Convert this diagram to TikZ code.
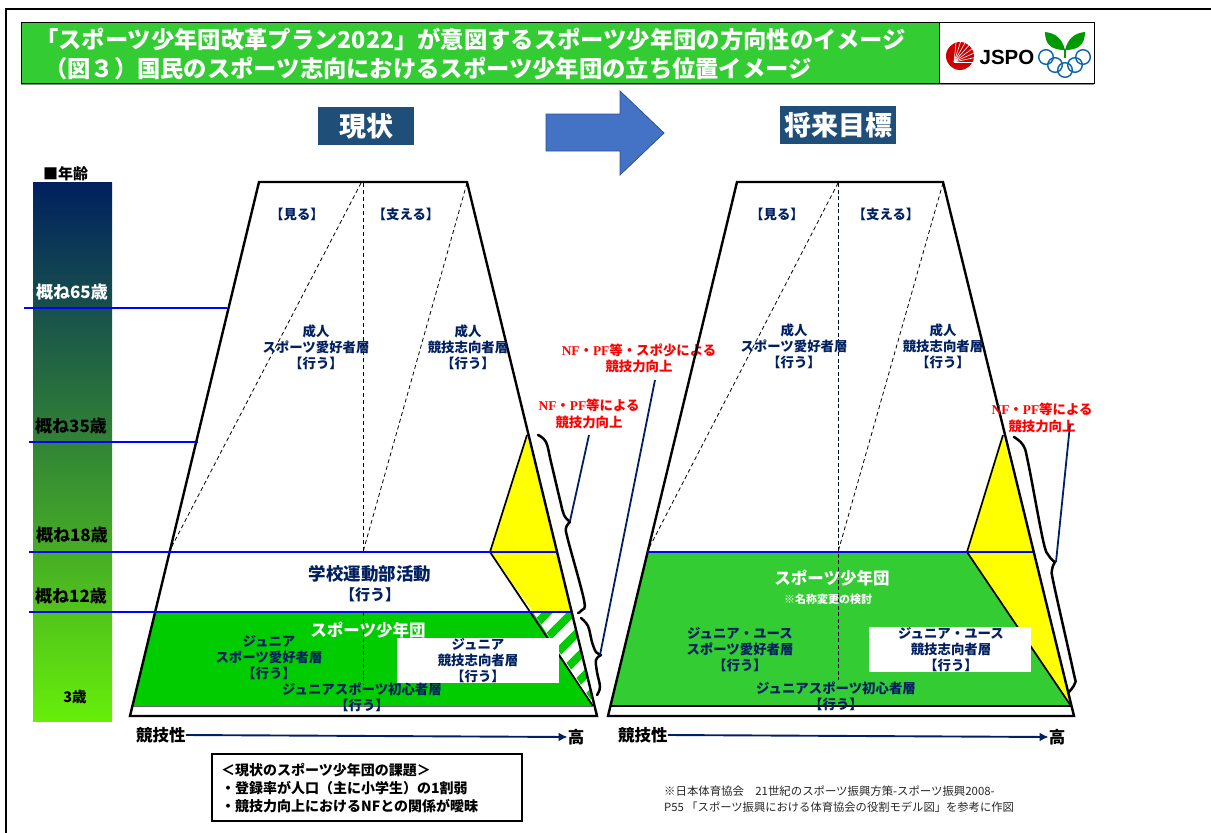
\documentclass[tikz,border=0pt]{standalone}
\usepackage{fontspec}
\setmainfont{Noto Sans CJK JP}
\newfontfamily\lsb{Liberation Serif}
\newfontfamily\lsn{Liberation Sans}
\newcommand\fs[2]{\fontsize{#1}{#2}\selectfont\bfseries}
\newcommand\nfpf{{\lsb\bfseries NF}・{\lsb\bfseries PF}}
\definecolor{navy}{HTML}{002060}
\definecolor{hdr}{HTML}{1F4E79}
\definecolor{tgreen}{HTML}{33CC33}
\definecolor{lgreen}{HTML}{00CC00}
\definecolor{lineblue}{HTML}{0000FF}
\definecolor{arrowblue}{HTML}{4472C4}
\definecolor{arrowedge}{HTML}{2F528F}
\definecolor{ringblue}{HTML}{0B62AF}
\definecolor{yel}{RGB}{255,255,0}
\definecolor{pured}{RGB}{255,0,0}
\usetikzlibrary{arrows.meta}
\tikzset{
  x=1pt,y=-1pt,
  outl/.style={draw=black,line width=2.4pt,line join=miter},
  edge/.style={draw=black,line width=1.7pt},
  blueline/.style={draw=lineblue,line width=2.8pt},
  dash1/.style={draw=black,line width=0.8pt,dash pattern=on 4pt off 3pt},
  dash2/.style={draw=black!70!navy,line width=1pt,dash pattern=on 4pt off 2.5pt},
  lbl/.style={text=navy,align=center,inner sep=0pt,font=\fs{13.4}{16}},
  big/.style={text=navy,align=center,inner sep=0pt,font=\fs{17.5}{20}},
  whitelbl/.style={text=white,inner sep=0pt,font=\fs{16.5}{18}},
  redlbl/.style={text=pured,align=center,inner sep=0pt,font=\fs{13.4}{16.5}},
  age/.style={inner sep=0pt,font=\fs{17}{17}},
  axlbl/.style={text=black,inner sep=0pt,font=\fs{16.5}{16.5}},
  axarrow/.style={draw=navy,line width=1.9pt,-{Latex[length=9pt,width=9pt]}},
  leader/.style={draw=navy,line width=1.8pt},
  brace/.style={draw=black,line width=2.5pt,line cap=round},
  hdrbox/.style={fill=hdr,text=white,inner sep=0pt,font=\fs{27}{27}},
  whitebox/.style={fill=white,draw=none,inner sep=0pt},
  ring/.style={draw=ringblue,line width=1.4pt},
}
\begin{document}
\begin{tikzpicture}
\useasboundingbox (0,0) rectangle (1211,833);
% outer frame
\draw[black,line width=2.4pt] (6,833) -- (6,9) -- (1211,9);
% title band
\fill[black!45] (21,84) rectangle (1094,85);
\node[fill=tgreen,draw=black,line width=0.8pt,minimum width=918pt,minimum height=61pt,inner sep=0pt,anchor=north west] (band) at (21,22) {};
\node[fill=white,draw=black,line width=0.8pt,minimum width=155pt,minimum height=61pt,inner sep=0pt,anchor=north west] (logo) at (939,22) {};
\node[text=white,inner sep=0pt,anchor=west,font=\fs{23.3}{24}] (t1) at (35,39) {「スポーツ少年団改革プラン2022」が意図するスポーツ少年団の方向性のイメージ};
\node[text=white,inner sep=0pt,anchor=west,font=\fs{23.3}{24}] (t2) at (44,69) {（図３）国民のスポーツ志向におけるスポーツ少年団の立ち位置イメージ};
% logo
\begin{scope}
\clip (960,56) circle (14);
\fill[red!80!black] (960,56) circle (14);
\foreach \a in {0,12,...,84} \draw[white,line width=0.6pt] (954,62) -- ++(-\a:30);
\end{scope}
\node[inner sep=0pt,text=black,font=\lsn\bfseries\fontsize{20.5}{20}\selectfont] (jspo) at (1007,57) {JSPO};
\fill[green!60!black] (1065,50) .. controls (1062,38) and (1055,33) .. (1045,32) .. controls (1045,45) and (1052,50) .. (1065,50) -- cycle;
\fill[green!60!black] (1065,50) .. controls (1068,38) and (1075,33) .. (1085,32) .. controls (1085,45) and (1078,50) .. (1065,50) -- cycle;
\draw[green!60!black,line width=1.4pt] (1065,50) -- (1065,58);
\foreach \p in {(1046,57),(1055,65),(1065,70),(1075,65),(1083,57)} \draw[ring] \p circle (7.3);
% headers
\node[hdrbox,minimum width=96pt,minimum height=38pt] (now) at (366,126) {現状};
\node[hdrbox,minimum width=116pt,minimum height=38pt] (future) at (838,125) {将来目標};
\draw[fill=arrowblue,draw=arrowedge,line width=0.8pt] (546,114) -- (620,114) -- (620,91) -- (664,133) -- (620,175) -- (620,151) -- (546,151) -- cycle;
% age bar
\shade[top color=navy,middle color={rgb,255:red,72;green,160;blue,75},bottom color={rgb,255:red,102;green,238;blue,10}] (33,182) rectangle (112,721);
\node[age,font=\fs{15}{15},anchor=west] (agehd) at (43,174) {■年齢};

% ---- LEFT trapezoid
\path[fill=white] (259,182) -- (467,182) -- (597,716) -- (130,716) -- cycle;
\fill[lgreen] (155,612) -- (533,612) -- (593,706) -- (133,706) -- cycle;
\begin{scope}
\clip (533,612) -- (572,612) -- (595,706) -- cycle;
\fill[white] (533,612) -- (572,612) -- (595,706) -- cycle;
\foreach \s in {1160,1185,1210,1235,1260,1285} \draw[lgreen,line width=8pt] (\s-760,760) -- (\s-560,560);
\end{scope}
\fill[yel] (527,435) -- (490,552) -- (533,612) -- (572,612) -- cycle;
\draw[edge] (527,435) -- (490,552) -- (593,706);
\draw[draw=black!60,line width=0.8pt] (133,706) -- (593,706);
\draw[dash1] (361,183) -- (169,552);
\draw[dash1] (467,183) -- (363,552);
\draw[dash1] (363,183) -- (363,552);
\draw[dash2] (363,612) -- (363,685);
\draw[outl] (259,182) -- (467,182) -- (597,716) -- (130,716) -- cycle;
\draw[blueline] (24,308) -- (227,308);
\draw[blueline] (29,442) -- (198,442);
\draw[blueline] (29,552) -- (557,552);
\draw[blueline] (29,612) -- (571,612);
\node[whitebox,minimum width=162pt,minimum height=45pt] (wbl) at (478,660.5) {};
% age labels
\node[age,text=white] (a65) at (72,292) {概ね65歳};
\node[age] (a35) at (71,426) {概ね35歳};
\node[age] (a18) at (72,535) {概ね18歳};
\node[age] (a12) at (71,596) {概ね12歳};
\node[age,font=\fs{14.5}{15}] (a3) at (75,697) {3歳};
% left labels
\node[lbl] (see1) at (297,214) {【見る】};
\node[lbl] (sup1) at (406,214) {【支える】};
\node[lbl] (ad1) at (316,347) {成人\\スポーツ愛好者層\\【行う】};
\node[lbl] (ad2) at (468,347) {成人\\競技志向者層\\【行う】};
\node[big] (sch) at (370,584) {学校運動部活動\\{\fontsize{15}{15}\selectfont 【行う】}};
\node[whitelbl] (ss1) at (368,630) {スポーツ少年団};
\node[lbl] (j1) at (269,658) {ジュニア\\スポーツ愛好者層\\【行う】};
\node[lbl] (j2) at (478,661) {ジュニア\\競技志向者層\\【行う】};
\node[lbl] (jb) at (362,697.5) {ジュニアスポーツ初心者層\\【行う】};
% left brackets
\draw[brace] plot[smooth,tension=0.6] coordinates {(538,435) (546,442) (551,462) (560,500) (564,515) (570,522)};
\draw[brace] plot[smooth,tension=0.6] coordinates {(570,522) (566,528) (568,540) (584,600) (582,610) (578,613)};
\draw[brace] plot[smooth,tension=0.6] coordinates {(581,618) (588,626) (592,642) (596,652) (601,655)};
\draw[brace] plot[smooth,tension=0.6] coordinates {(601,655) (596,660) (597,672) (600,687) (597,695)};
\coordinate (l1a) at (589,435);
\coordinate (l1b) at (570,521);
\coordinate (l2a) at (655,380);
\coordinate (l2b) at (600,655);
\draw[leader] (l1a) -- (l1b);
\draw[leader] (l2a) -- (l2b);
\node[redlbl] (r1) at (639,358.5) {\nfpf 等・スポ少による\\競技力向上};
\node[redlbl] (r2) at (589,414) {\nfpf 等による\\競技力向上};
% left axis
\node[axlbl,anchor=west] (c1) at (136,735) {競技性};
\node[axlbl,anchor=center] (h1) at (576,737) {高};
\draw[axarrow] (c1.east) -- (h1.west);

% ---- RIGHT trapezoid
\fill[tgreen] (647,552) -- (967,552) -- (1071,706) -- (611,706) -- cycle;
\fill[yel] (1003,435) -- (967,552) -- (1071,706) -- (1033,552) -- cycle;
\draw[edge] (1003,435) -- (967,552) -- (1071,706) -- (611,706);
\draw[dash1] (838,183) -- (647,552);
\draw[dash1] (943,183) -- (838,552);
\draw[dash2] (838,183) -- (838,680);
\draw[outl] (737,182) -- (943,182) -- (1074,716) -- (608,716) -- cycle;
\draw[blueline] (647,552) -- (1033,552);
\node[whitebox,minimum width=162pt,minimum height=45pt] (wbr) at (950,649.5) {};
\node[lbl] (see2) at (777,214) {【見る】};
\node[lbl] (sup2) at (886,214) {【支える】};
\node[lbl] (ad3) at (794,346) {成人\\スポーツ愛好者層\\【行う】};
\node[lbl] (ad4) at (943,346) {成人\\競技志向者層\\【行う】};
\node[whitelbl] (ss2) at (832,578) {スポーツ少年団};
\node[text=white,inner sep=0pt,font=\fs{11}{11}] (rename) at (828,599) {※名称変更の検討};
\node[lbl] (j3) at (740,650) {ジュニア・ユース\\スポーツ愛好者層\\【行う】};
\node[lbl] (j4) at (951,650) {ジュニア・ユース\\競技志向者層\\【行う】};
\node[lbl] (jb2) at (836,696) {ジュニアスポーツ初心者層\\【行う】};
\draw[brace] plot[smooth,tension=0.6] coordinates {(1014,437) (1023,445) (1028,462) (1043,540) (1049,556) (1055,562)};
\draw[brace] plot[smooth,tension=0.6] coordinates {(1055,562) (1052,570) (1054,585) (1073,670) (1075,683) (1068,693)};
\coordinate (l3a) at (1070,425);
\coordinate (l3b) at (1056,562);
\draw[leader] (l3a) -- (l3b);
\node[redlbl] (r3) at (1042,418) {\nfpf 等による\\競技力向上};
\node[axlbl,anchor=west] (c2) at (618,735) {競技性};
\node[axlbl,anchor=center] (h2) at (1057,737) {高};
\draw[axarrow] (c2.east) -- (h2.west);

% issue box
\node[draw=black,line width=2.4pt,fill=white,minimum width=310pt,minimum height=67pt,inner sep=0pt,anchor=north west] (issue) at (211,752.5) {};
\node[inner sep=0pt,anchor=west,font=\fs{14}{14}] (i1) at (221,770) {＜現状のスポーツ少年団の課題＞};
\node[inner sep=0pt,anchor=west,font=\fs{14}{14}] (i2) at (221,788) {・登録率が人口（主に小学生）の1割弱};
\node[inner sep=0pt,anchor=west,font=\fs{14}{14}] (i3) at (221,806) {・競技力向上におけるNFとの関係が曖昧};
% note
\node[inner sep=0pt,anchor=west,text=black!85,font=\fontsize{11.4}{11}\selectfont] (n1) at (664,791) {※日本体育協会　21世紀のスポーツ振興方策-スポーツ振興2008-};
\node[inner sep=0pt,anchor=west,text=black!85,font=\fontsize{11.3}{11}\selectfont] (n2) at (664,807) {P55 「スポーツ振興における体育協会の役割モデル図」を参考に作図};
\end{tikzpicture}
\end{document}
